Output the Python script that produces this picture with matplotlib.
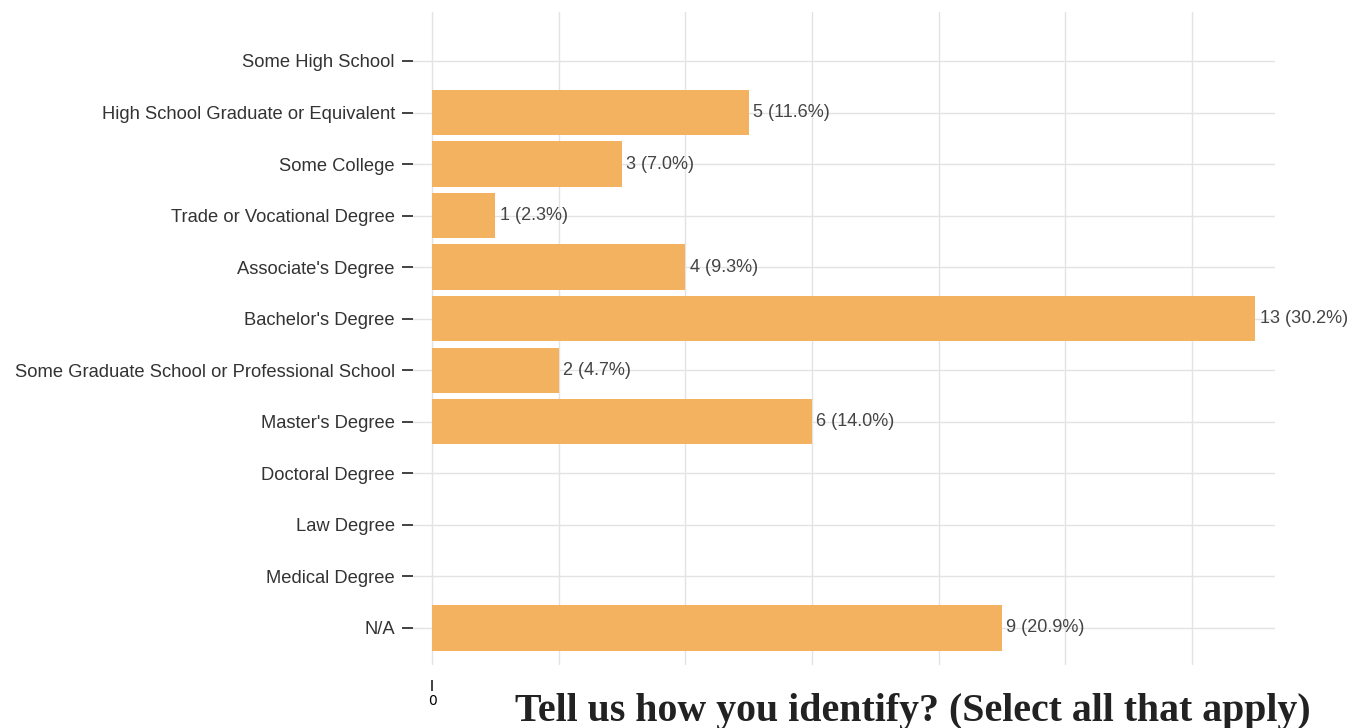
import matplotlib
matplotlib.use('Agg')
import matplotlib.pyplot as plt

# data
categories = ['Some High School', 'High School Graduate or Equivalent', 'Some College',
              'Trade or Vocational Degree', "Associate's Degree", "Bachelor's Degree",
              'Some Graduate School or Professional School', "Master's Degree",
              'Doctoral Degree', 'Law Degree', 'Medical Degree', 'N/A']
counts = [0, 5, 3, 1, 4, 13, 2, 6, 0, 0, 0, 9]
percents = [0.0, 11.6, 7.0, 2.3, 9.3, 30.2, 4.7, 14.0, 0.0, 0.0, 0.0, 20.9]
grid_x = [0, 2, 4, 6, 8, 10, 12]
title = 'Tell us how you identify? (Select all that apply)'

bar_color = '#f3b25f'
grid_color = '#e3e3e3'

fig = plt.figure(figsize=(13.57, 7.28), dpi=100)
ax = fig.add_axes([413/1357, 1-665/728, (1275-413)/1357, (665-12)/728])

ypos = list(range(len(categories)))

# grid lines
for y in ypos:
    ax.axhline(y, color=grid_color, lw=1, zorder=0)
for gx in grid_x:
    ax.axvline(gx, color=grid_color, lw=1, zorder=0)

ax.barh(ypos, counts, height=0.88, color=bar_color, zorder=2)

for y, c, p in zip(ypos, counts, percents):
    if c > 0:
        ax.annotate(f'{c} ({p:.1f}%)', (c, y), xytext=(3, 0), textcoords='offset points',
                    va='center', ha='left', fontsize=13, color='#444444',
                    family='Liberation Sans', zorder=3)

ax.set_xlim(-0.30, 13.31)
ax.set_ylim(11.72, -0.95)

ax.set_yticks(ypos)
ax.set_yticklabels(categories, family='Liberation Sans', fontsize=13.2, color='#333333')
ax.tick_params(axis='y', length=8, width=1.3, color='#333333', pad=5)

ax.set_xticks([0])
ax.set_xticklabels(['0'], family='Liberation Sans', fontsize=11.5, color='#333333')
ax.tick_params(axis='x', length=8, width=1.3, color='#333333', pad=2)
ax.spines['bottom'].set_position(('outward', 11))

for s in ax.spines.values():
    s.set_visible(False)

fig.text(515/1357, 1-721/728, title, ha='left', va='baseline',
         family='Liberation Serif', weight='bold', fontsize=28.7, color='#222222')

fig.savefig('out.png', dpi=100)
